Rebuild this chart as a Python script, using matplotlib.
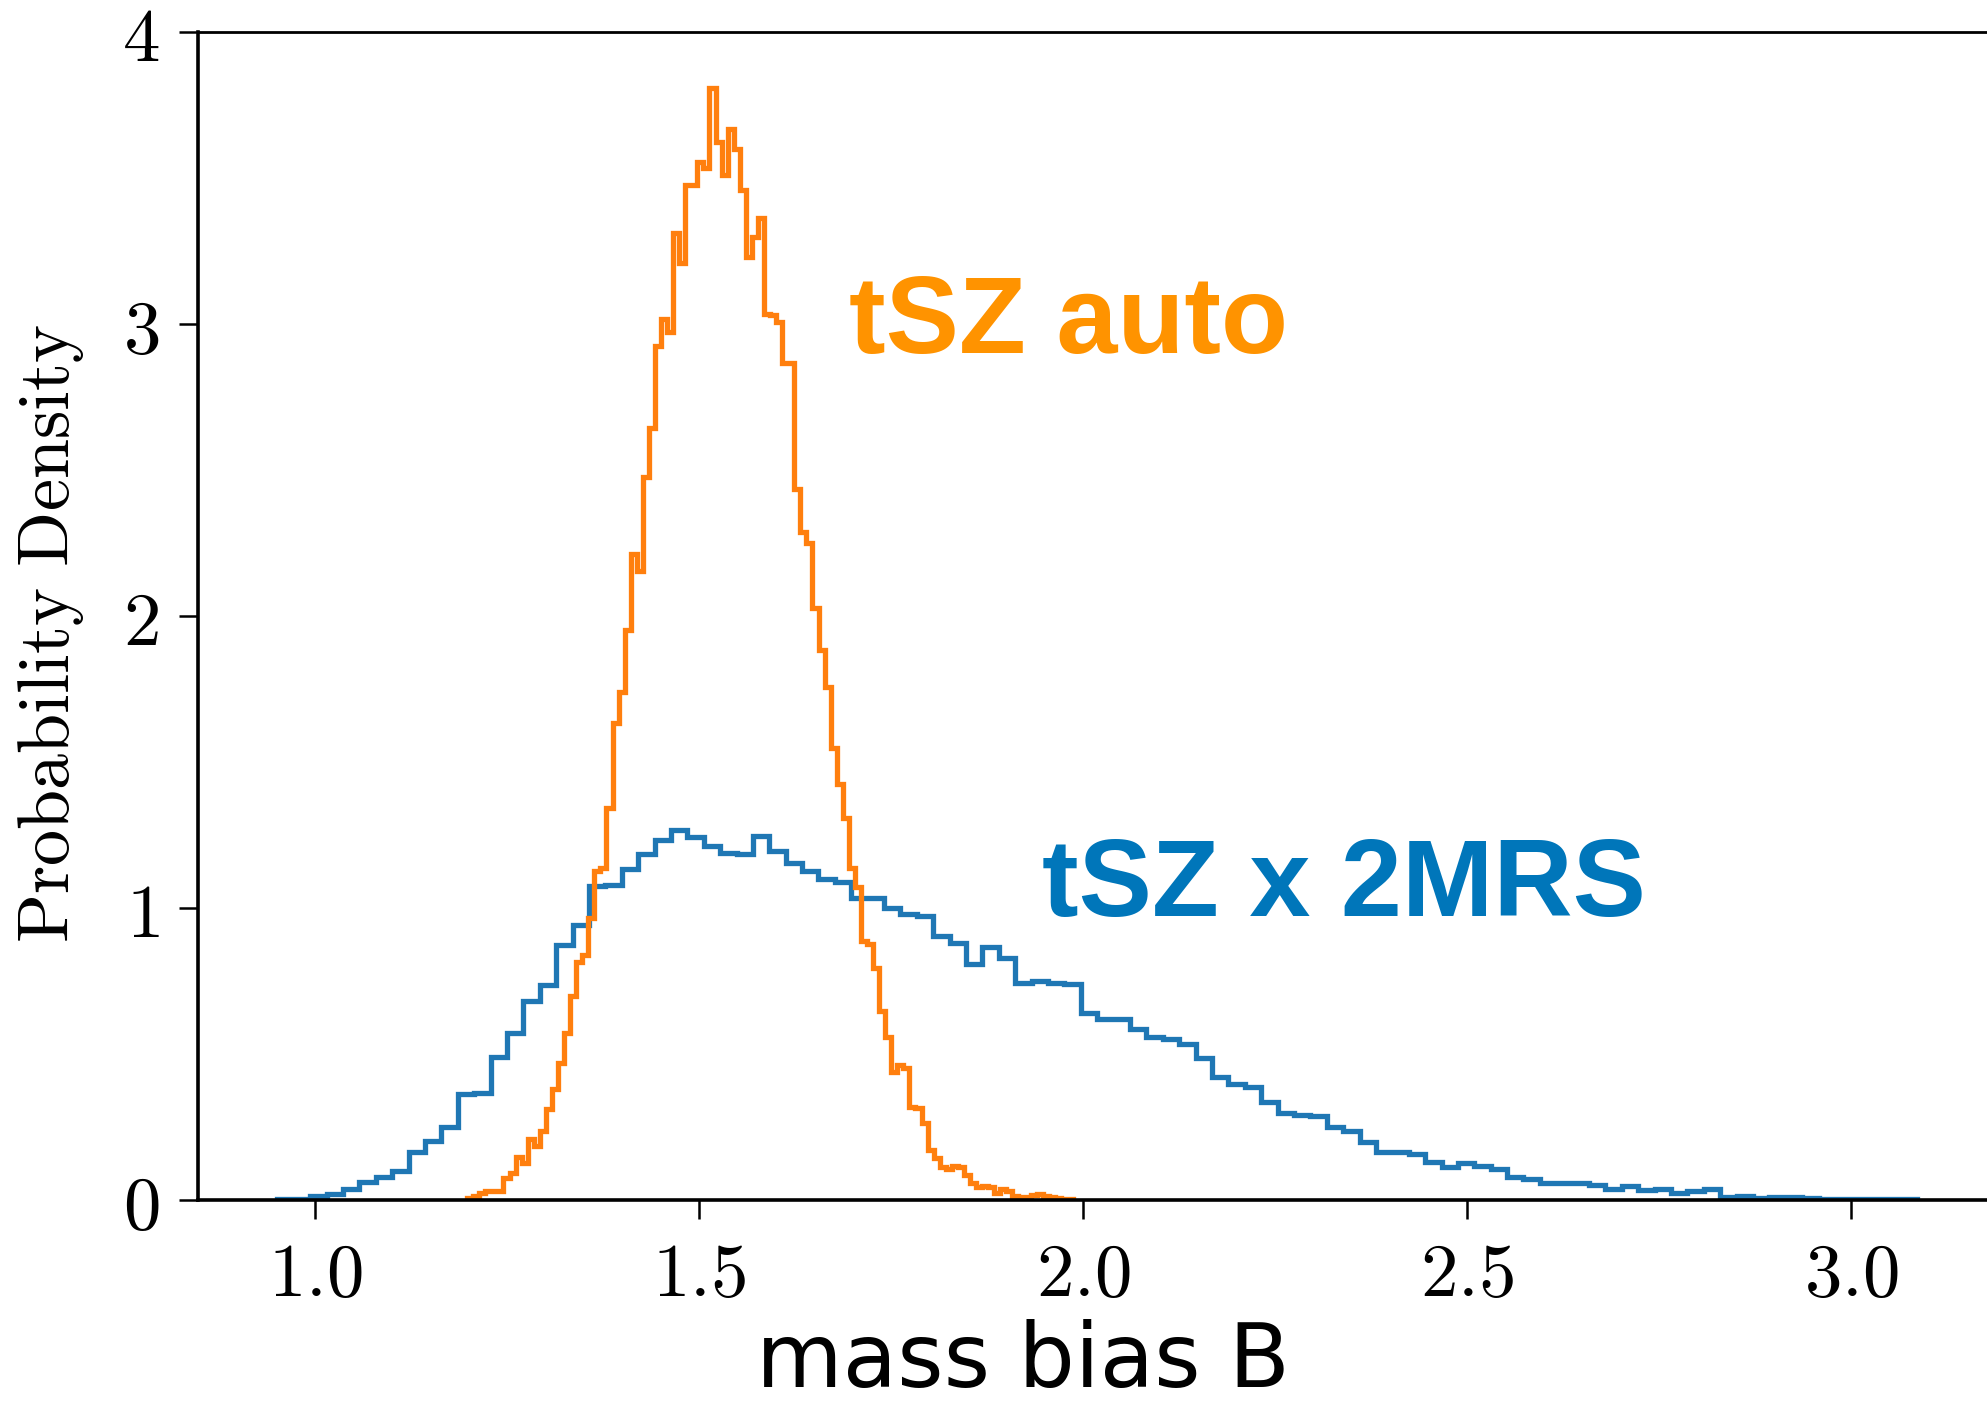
import numpy as np
import matplotlib
matplotlib.use('Agg')
import matplotlib.pyplot as plt

plt.rcParams['mathtext.fontset'] = 'cm'

# tSZ x 2MRS posterior on B, 100 bins between b_lo and b_hi
b_lo, b_hi = 0.951, 3.086
blue_h = [0.003, 0.005, 0.014, 0.021, 0.037, 0.061, 0.078, 0.100, 0.165, 0.203,
          0.251, 0.363, 0.368, 0.489, 0.571, 0.682, 0.736, 0.873, 0.942, 1.076,
          1.080, 1.134, 1.185, 1.233, 1.267, 1.242, 1.213, 1.190, 1.185, 1.248,
          1.196, 1.153, 1.128, 1.099, 1.088, 1.035, 1.035, 0.999, 0.979, 0.974,
          0.904, 0.881, 0.807, 0.865, 0.828, 0.744, 0.750, 0.745, 0.739, 0.639,
          0.620, 0.620, 0.586, 0.557, 0.551, 0.533, 0.485, 0.422, 0.397, 0.386,
          0.337, 0.297, 0.291, 0.288, 0.251, 0.236, 0.200, 0.165, 0.163, 0.158,
          0.131, 0.112, 0.126, 0.118, 0.108, 0.080, 0.071, 0.057, 0.057, 0.057,
          0.050, 0.039, 0.048, 0.034, 0.037, 0.023, 0.032, 0.037, 0.011, 0.015,
          0.008, 0.009, 0.011, 0.007, 0.005, 0.004, 0.004, 0.003, 0.002, 0.002]

# tSZ auto posterior on B, 100 bins between o_lo and o_hi
o_lo, o_hi = 1.198, 1.987
orange_h = [0.006, 0.015, 0.023, 0.030, 0.032, 0.032, 0.074, 0.094, 0.148, 0.126,
            0.208, 0.186, 0.237, 0.311, 0.382, 0.470, 0.571, 0.699, 0.816, 0.839,
            0.965, 1.128, 1.137, 1.343, 1.632, 1.741, 1.952, 2.212, 2.155, 2.477,
            2.645, 2.926, 3.017, 2.974, 3.311, 3.208, 3.476, 3.476, 3.556, 3.533,
            3.808, 3.624, 3.510, 3.668, 3.601, 3.459, 3.231, 3.299, 3.362, 3.034,
            3.031, 3.008, 2.865, 2.865, 2.435, 2.289, 2.249, 2.026, 1.884, 1.758,
            1.547, 1.425, 1.309, 1.137, 1.071, 0.886, 0.876, 0.793, 0.646, 0.560,
            0.439, 0.461, 0.451, 0.320, 0.314, 0.263, 0.171, 0.143, 0.114, 0.108,
            0.117, 0.112, 0.086, 0.057, 0.046, 0.049, 0.044, 0.023, 0.037, 0.030,
            0.013, 0.011, 0.011, 0.019, 0.021, 0.013, 0.010, 0.006, 0.004, 0.003]

xticks = [1.0, 1.5, 2.0, 2.5, 3.0]
xtick_labels = ['1.0', '1.5', '2.0', '2.5', '3.0']
yticks = [0, 1, 2, 3, 4]

fig = plt.figure(figsize=(19.87, 14.10), dpi=100)
ax = fig.add_axes([0.0997, 0.1489, 0.909, 0.8284])

blue_edges = np.linspace(b_lo, b_hi, len(blue_h) + 1)
orange_edges = np.linspace(o_lo, o_hi, len(orange_h) + 1)
ax.stairs(blue_h, blue_edges, color='#1f77b4', lw=3.8)
ax.stairs(orange_h, orange_edges, color='#ff7f0e', lw=3.8)

ax.set_xlim(0.8477, 3.1997)
ax.set_ylim(0, 4)

ax.set_xticks(xticks)
ax.set_xticklabels(['$' + t + '$' for t in xtick_labels])
ax.set_yticks(yticks)
ax.set_yticklabels(['$%d$' % t for t in yticks])
ax.tick_params(axis='both', labelsize=54, length=14, width=1.8, direction='out')
ax.tick_params(axis='x', pad=14)
ax.tick_params(axis='y', pad=14)

ax.spines['right'].set_visible(False)
ax.spines['left'].set_linewidth(2.6)
ax.spines['bottom'].set_linewidth(2.6)
ax.spines['top'].set_linewidth(2.0)

fig.text(51 / 1987, 1 - 633 / 1410, r'$\mathrm{Probability\ Density}$',
         rotation=90, ha='center', va='center', fontsize=52)
fig.text(0.5148, 0.0165, 'mass bias B', family='DejaVu Sans', fontsize=64,
         ha='center', va='baseline')

fig.text(0.4273, 0.7496, 'tSZ auto', color='#FF9300', fontsize=79,
         fontweight='bold', family='Liberation Sans', ha='left', va='baseline')
fig.text(0.5244, 0.3504, 'tSZ x 2MRS', color='#0076BA', fontsize=79,
         fontweight='bold', family='Liberation Sans', ha='left', va='baseline')

fig.savefig('out.png', dpi=100)
